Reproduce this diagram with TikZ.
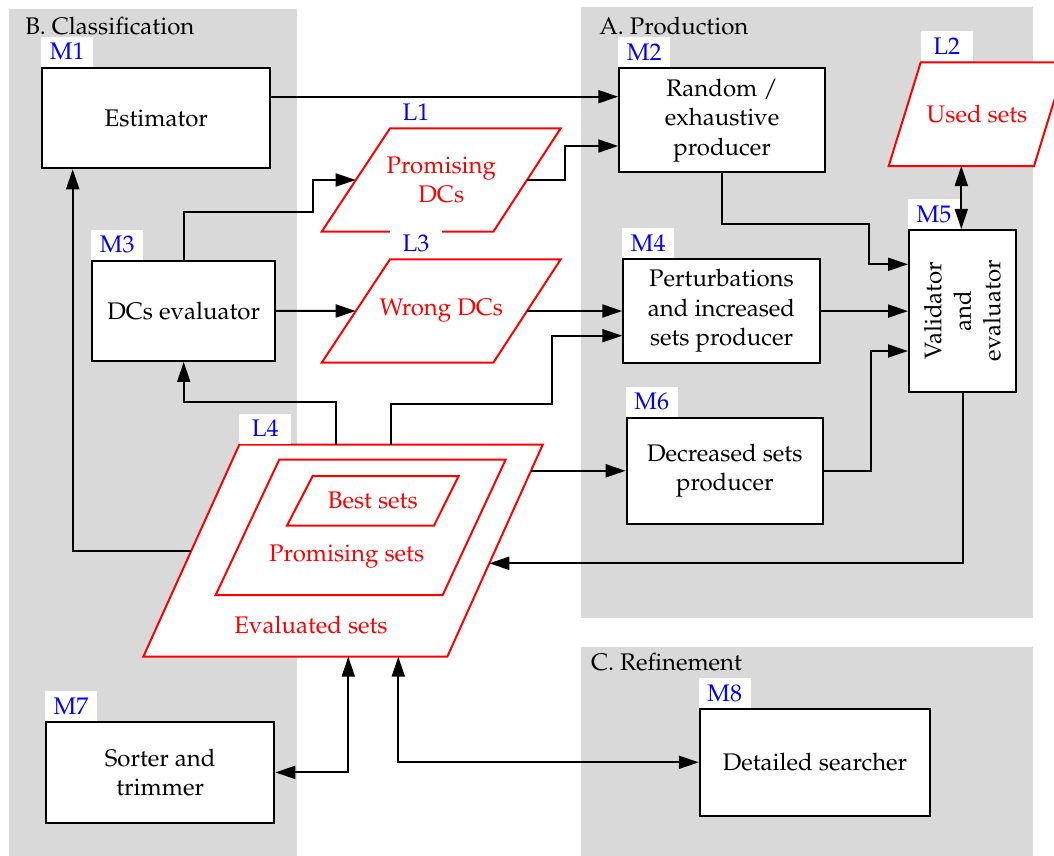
\documentclass[tikz,border=0pt]{standalone}
\usepackage[T1]{fontenc}
\usepackage{mathpazo}
\usetikzlibrary{arrows.meta}
\tikzset{every picture/.style={line width=2pt}}

\begin{document}
\begin{tikzpicture}[x=1pt,y=1pt,yscale=-1,
  font=\fontsize{24}{29.5}\selectfont,
  zone/.style={fill=black!15,draw=none},
  mbox/.style={draw,fill=white,inner sep=0pt,align=center},
  tag/.style={fill=white,text=blue,minimum width=52pt,minimum height=30pt,inner sep=0pt,outer sep=0pt,anchor=south west},
  dset/.style={draw=red,fill=white},
  dtext/.style={text=red,align=center},
  arr/.style={-{Triangle[length=20pt,width=13pt]}},
  arr2/.style={{Triangle[length=20pt,width=13pt]}-{Triangle[length=20pt,width=13pt]}}]
	\useasboundingbox (0,0) rectangle (1054,856);

	% Zones
	\fill[zone] (9,9.3) rectangle (297,856);
	\fill[zone] (581,7.3) rectangle (1033,618);
	\fill[zone] (581,647) rectangle (1033,856);
	\node[anchor=base west,inner sep=0pt] (tb) at (24.3,34.3) {B. Classification};
	\node[anchor=base west,inner sep=0pt] (ta) at (598.3,35) {A. Production};
	\node[anchor=base west,inner sep=0pt] (tc) at (590,670.7) {C. Refinement};

	% Modules
	\node[mbox,minimum width=228pt,minimum height=100.6pt] (m1) at (156.3,118) {Estimator};
	\node[mbox,minimum width=205.7pt,minimum height=104pt] (m2) at (722.1,120.3) {Random /\\exhaustive\\producer};
	\node[mbox,minimum width=183pt,minimum height=100.3pt] (m3) at (183.7,310.8) {DCs evaluator};
	\node[mbox,minimum width=196.4pt,minimum height=104.3pt] (m4) at (721.5,311.1) {Perturbations\\and increased\\sets producer};
	\node[mbox,minimum width=107pt,minimum height=161.7pt] (m5) at (962.5,310.8) {};
	\node[rotate=90,align=center] (m5txt) at (m5.center) {Validator\\and\\evaluator};
	\node[mbox,minimum width=196.3pt,minimum height=106.3pt] (m6) at (724.8,470.8) {Decreased sets\\producer};
	\node[mbox,minimum width=228.3pt,minimum height=101.3pt] (m7) at (160.2,772.4) {Sorter and\\trimmer};
	\node[mbox,minimum width=230.4pt,minimum height=106.7pt] (m8) at (815,762.3) {Detailed searcher};

	% Module tags
	\node[tag] (m1tag) at (m1.north west) {M1};
	\node[tag] (m2tag) at (m2.north west) {M2};
	\node[tag] (m3tag) at (m3.north west) {M3};
	\node[tag] (m4tag) at (m4.north west) {M4};
	\node[tag] (m5tag) at (m5.north west) {M5};
	\node[tag] (m6tag) at (m6.north west) {M6};
	\node[tag] (m7tag) at (m7.north west) {M7};
	\node[tag] (m8tag) at (m8.north west) {M8};

	% Lists
	\draw[dset] (390,128.3) -- (560.7,128.3) -- (493.3,231.7) -- (321.7,231.7) -- cycle;
	\node[dtext] (l1) at (441.3,180) {Promising\\DCs};
	\node[tag] (l1tag) at (390,127.3) {L1};
	\draw[dset] (920.7,62.3) -- (1066,62.3) -- (1034,166) -- (888.7,166) -- cycle;
	\node[dtext] (l2) at (977,114.2) {Used sets};
	\node[tag] (l2tag) at (920.7,61.3) {L2};
	\draw[dset] (390,259.3) -- (560.7,259.3) -- (493.3,362.7) -- (321.7,362.7) -- cycle;
	\node[dtext] (l3) at (441.3,311) {Wrong DCs};
	\node[tag] (l3tag) at (390,258.3) {L3};
	\draw[dset] (239.3,444.7) -- (542.7,444.7) -- (447.3,656.7) -- (143.3,656.7) -- cycle;
	\draw[dset] (279.3,459.5) -- (505.7,459.5) -- (442.7,595) -- (215.7,595) -- cycle;
	\draw[dset] (312.7,476) -- (458.7,476) -- (434,525.5) -- (287,525.5) -- cycle;
	\node[dtext] (l4best) at (372.8,500.7) {Best sets};
	\node[dtext] (l4prom) at (346.7,556.7) {Promising sets};
	\node[dtext] (l4) at (311,625) {Evaluated sets};
	\node[tag] (l4tag) at (239.3,443.7) {L4};

	% Ports on the lists
	\coordinate (l1w) at (355.7,180);
	\coordinate (l1e) at (527,180);
	\coordinate (l2s) at (961.3,166);
	\coordinate (l3w) at (355.7,311);
	\coordinate (l3e) at (527,311);
	\coordinate (l4w) at (191.3,550.7);
	\coordinate (l4t1) at (336,444.7);
	\coordinate (l4t2) at (390.7,444.7);
	\coordinate (l4e1) at (531,470.8);
	\coordinate (l4e2) at (489.3,563.3);
	\coordinate (l4s1) at (348.3,656.7);
	\coordinate (l4s2) at (398.3,656.7);

	% Connectors
	\draw[arr] (m1.east |- 0,96.7) -- (m2.west |- 0,96.7);
	\draw[arr] (l1e) -| (565,146) -- (m2.west |- 0,146);
	\draw[arr] (m3.north) |- (312.7,211.7) |- (l1w);
	\draw[arr] (m3.east) -- (l3w);
	\draw[arr] (l3e) -- (m4.west |- l3e);
	\draw[arr] (m2.south) |- (868.5,224.3) |- (m5.west |- 0,264.3);
	\draw[arr] (m4.east) -- (m5.west |- m4.east);
	\draw[arr] (m6.east) -| (870.7,351) -- (m5.west |- 0,351);
	\draw[arr2] (l2s) -- (l2s |- m5.north);
	\draw[arr] (m5.south) |- (l4e2);
	\draw[arr] (l4t2) |- (551.7,404.3) |- (m4.west |- 0,335.7);
	\draw[arr] (l4t1) |- (m3.south |- 0,401.7) -- (m3.south);
	\draw[arr] (l4w) -| (m1.south -| 72.7,0);
	\draw[arr] (l4e1) -- (m6.west |- l4e1);
	\draw[arr2] (m7.east) -| (l4s1);
	\draw[arr2] (l4s2) |- (m8.west);

\end{tikzpicture}
\end{document}
